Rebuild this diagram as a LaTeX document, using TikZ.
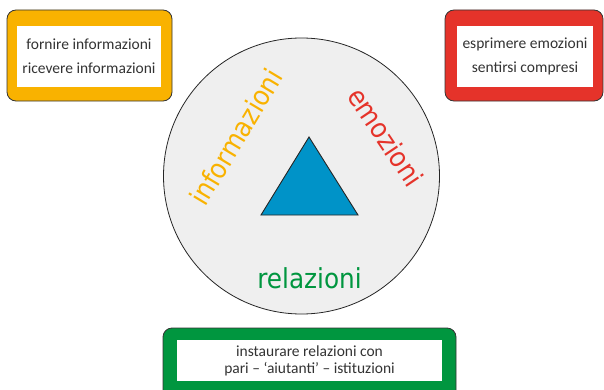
\documentclass[tikz,border=0pt]{standalone}
\usepackage{fontspec}
\setmainfont{Carlito}
\newfontfamily\labelfont[FakeStretch=0.9]{DejaVu Sans}
\definecolor{orangeC}{HTML}{F9B200}
\definecolor{redC}{HTML}{E5332A}
\definecolor{greenC}{HTML}{00963F}
\definecolor{blueC}{HTML}{0093C8}
\definecolor{circleC}{HTML}{EFEFEF}
\definecolor{textC}{HTML}{333333}
\tikzset{
  frame/.style={draw=textC, line width=0.8pt, rounded corners=9pt, inner sep=0pt},
  whitebox/.style={fill=white, draw=none, inner sep=0pt, align=center, text=textC},
  bigword/.style={font=\labelfont\fontsize{27.5}{27.5}\selectfont, inner sep=0pt}
}
\begin{document}
\begin{tikzpicture}[x=1pt,y=1pt]
\useasboundingbox (0,0) rectangle (604,389);
\clip (0,0) rectangle (604,389);
% circle and triangle
\node[circle, draw=black!85, line width=0.8pt, fill=circleC, minimum size=276pt, inner sep=0pt] (circ) at (301.5,213) {};
\coordinate (tA) at (309,252);
\coordinate (tB) at (261,174);
\coordinate (tC) at (358,174);
\draw[draw=black!85, line width=0.9pt, fill=blueC, line join=miter] (tA) -- (tB) -- (tC) -- cycle;
% words in circle
\node[bigword, text=orangeC, rotate=59] (info) at (236,252) {informazioni};
\node[bigword, text=redC, rotate=-56] (emo) at (386,252) {emozioni};
\node[bigword, text=greenC, anchor=base] (rel) at (309.5,101) {relazioni};
% orange box
\node[frame, fill=orangeC, minimum width=165pt, minimum height=91pt] (infoFrame) at (89.5,333.5) {};
\node[whitebox, minimum width=144pt, minimum height=61pt, font=\fontsize{15.5}{24}\selectfont] (infoText) at (89,332.5) {fornire informazioni\\ricevere informazioni};
% red box
\node[frame, fill=redC, minimum width=158pt, minimum height=91pt] (emoFrame) at (524,333.5) {};
\node[whitebox, minimum width=136pt, minimum height=61pt, font=\fontsize{15.5}{24}\selectfont] (emoText) at (525,332.5) {esprimere emozioni\\sentirsi compresi};
% green box
\node[frame, fill=greenC, minimum width=293pt, minimum height=81pt] (relFrame) at (309.5,20.5) {};
\node[whitebox, minimum width=265pt, minimum height=41pt, font=\fontsize{15.5}{17}\selectfont] (relText) at (309.5,28.5) {instaurare relazioni con\\pari -- ‘aiutanti’ -- istituzioni};
\end{tikzpicture}
\end{document}
